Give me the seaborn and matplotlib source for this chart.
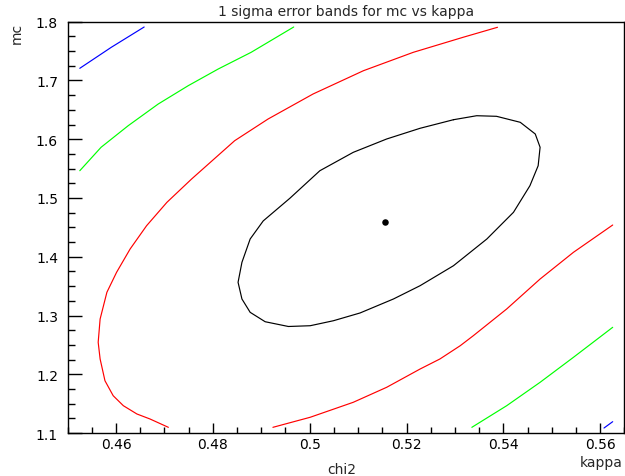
import matplotlib
matplotlib.use("Agg")
import matplotlib.pyplot as plt
from matplotlib.ticker import MultipleLocator, FuncFormatter
import seaborn as sns
import pandas as pd

# Best-fit point
best_kappa = [0.5156]
best_mc = [1.4596]

# 1 sigma contour (closed)
c1_kappa = [0.5297, 0.5345, 0.5386, 0.5435, 0.5466, 0.5476, 0.5472, 0.5455, 0.5421,
            0.5366, 0.5297, 0.5228, 0.5173, 0.5104, 0.5049, 0.5001, 0.4956, 0.4908,
            0.4877, 0.4860, 0.4852, 0.4860, 0.4877, 0.4904, 0.4959, 0.5021, 0.5090,
            0.5159, 0.5228, 0.5297]
c1_mc = [1.6332, 1.6400, 1.6390, 1.6288, 1.6089, 1.5863, 1.5549, 1.5209, 1.4756,
         1.4302, 1.3847, 1.3507, 1.3281, 1.3043, 1.2911, 1.2826, 1.2813, 1.2894,
         1.3054, 1.3281, 1.3565, 1.3905, 1.4302, 1.4610, 1.4995, 1.5464, 1.5777,
         1.6004, 1.6186, 1.6332]

# 2 sigma contour, upper-left and lower-right branches
c2a_kappa = [0.4708, 0.4670, 0.4643, 0.4615, 0.4594, 0.4577, 0.4567, 0.4563, 0.4567,
             0.4581, 0.4601, 0.4629, 0.4663, 0.4705, 0.4756, 0.4845, 0.4914,
             0.5007, 0.5111, 0.5214, 0.5317, 0.5388]
c2a_mc = [1.1097, 1.1239, 1.1324, 1.1465, 1.1635, 1.1890, 1.2260, 1.2544, 1.2940,
          1.3395, 1.3735, 1.4132, 1.4528, 1.4926, 1.5323, 1.5975, 1.6344,
          1.6770, 1.7166, 1.7479, 1.7735, 1.7905]
c2b_kappa = [0.4924, 0.5001, 0.5090, 0.5159, 0.5228, 0.5269, 0.5311, 0.5338, 0.5407,
             0.5476, 0.5545, 0.5626]
c2b_mc = [1.1097, 1.1268, 1.1523, 1.1778, 1.2089, 1.2260, 1.2486, 1.2656, 1.3111,
          1.3621, 1.4076, 1.4540]

# 3 sigma contour branches
c3a_kappa = [0.4525, 0.4569, 0.4625, 0.4687, 0.4749, 0.4811, 0.4879, 0.4967]
c3a_mc = [1.5464, 1.5863, 1.6230, 1.6599, 1.6911, 1.7195, 1.7479, 1.7910]
c3b_kappa = [0.5335, 0.5407, 0.5476, 0.5545, 0.5626]
c3b_mc = [1.1097, 1.1465, 1.1863, 1.2289, 1.2799]

# 4 sigma contour branches
c4a_kappa = [0.4525, 0.4590, 0.4658]
c4a_mc = [1.7207, 1.7564, 1.7910]
c4b_kappa = [0.5608, 0.5626]
c4b_mc = [1.1085, 1.1193]

segments = [
    (c1_kappa, c1_mc, "black"),
    (c2a_kappa, c2a_mc, "#ff0000"),
    (c2b_kappa, c2b_mc, "#ff0000"),
    (c3a_kappa, c3a_mc, "#00ff00"),
    (c3b_kappa, c3b_mc, "#00ff00"),
    (c4a_kappa, c4a_mc, "#0000ff"),
    (c4b_kappa, c4b_mc, "#0000ff"),
]

sns.set_style("white")
plt.rcParams["font.family"] = ["DejaVu Sans"]

fig = plt.figure(figsize=(6.25, 4.77), dpi=100)
ax = fig.add_axes([0.1083, 0.0901, 0.8906, 0.8623])

for kx, my, col in segments:
    df = pd.DataFrame({"kappa": kx, "mc": my})
    sns.lineplot(data=df, x="kappa", y="mc", sort=False, estimator=None,
                 color=col, linewidth=0.85, ax=ax)

sns.scatterplot(x=best_kappa, y=best_mc, color="black", s=22, linewidth=0, ax=ax)

ax.set_xlim(0.450, 0.565)
ax.set_ylim(1.1, 1.8)
ax.set_xlabel("")
ax.set_ylabel("")

ax.xaxis.set_major_locator(MultipleLocator(0.02))
ax.xaxis.set_minor_locator(MultipleLocator(0.005))
ax.yaxis.set_major_locator(MultipleLocator(0.1))
ax.yaxis.set_minor_locator(MultipleLocator(0.025))
fmt = FuncFormatter(lambda v, p: f"{v:g}")
ax.xaxis.set_major_formatter(fmt)
ax.yaxis.set_major_formatter(fmt)

ax.tick_params(axis="both", which="both", direction="in", colors="black",
               labelsize=10, top=False, right=False, bottom=True, left=True, width=1)
ax.tick_params(axis="x", which="major", length=7, pad=3)
ax.tick_params(axis="x", which="minor", length=4)
ax.tick_params(axis="y", which="major", length=10, pad=7)
ax.tick_params(axis="y", which="minor", length=5)

for sp in ax.spines.values():
    sp.set_color("black")
    sp.set_linewidth(1.0)

fig.text(0.5536, 0.975, "1 sigma error bands for mc vs kappa",
         ha="center", va="center", fontsize=10)
fig.text(0.996, 0.029, "kappa", ha="right", va="center", fontsize=10)
fig.text(0.547, 0.014, "chi2", ha="center", va="center", fontsize=10)
fig.text(0.026, 0.952, "mc", ha="center", va="top", rotation=90, fontsize=10)

fig.savefig("out.png", dpi=100)
